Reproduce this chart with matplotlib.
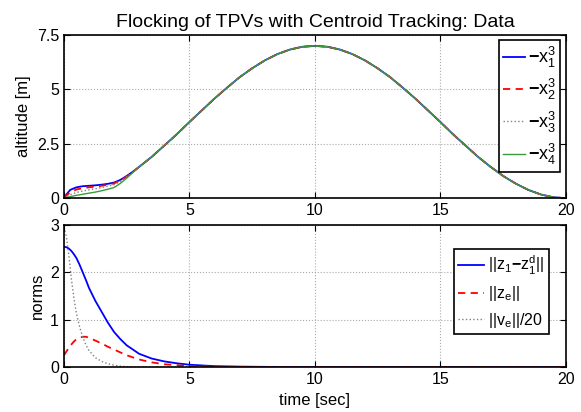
import matplotlib
matplotlib.use("Agg")
import matplotlib.pyplot as plt

plt.rcParams['font.family'] = ['Liberation Sans', 'DejaVu Sans']
plt.rcParams['mathtext.fontset'] = 'custom'
plt.rcParams['mathtext.rm'] = 'Liberation Sans'
plt.rcParams['mathtext.it'] = 'Liberation Sans'
plt.rcParams['mathtext.bf'] = 'Liberation Sans:bold'

# time samples (sec)
t = [0, 0.25, 0.5, 0.75, 1, 1.25, 1.5, 1.75, 2, 2.25, 2.5, 2.75, 3, 3.5, 4, 4.5, 5,
     5.5, 6, 6.5, 7, 7.5, 8, 8.5, 9, 9.5, 10, 10.5, 11, 11.5, 12, 12.5, 13, 13.5,
     14, 14.5, 15, 15.5, 16, 16.5, 17, 17.5, 18, 18.5, 19, 19.5, 20]

# altitude of the common part of the trajectory (after t = 3)
common = [1.44, 1.90, 2.42, 2.94, 3.50, 4.04, 4.58, 5.08, 5.56, 5.97, 6.33, 6.62,
          6.83, 6.96, 7.00, 6.96, 6.83, 6.62, 6.33, 5.97, 5.56, 5.08, 4.58, 4.04,
          3.50, 2.94, 2.42, 1.90, 1.44, 1.02, 0.67, 0.38, 0.17, 0.04, 0.0]
x1_start = [0.03, 0.38, 0.50, 0.55, 0.57, 0.59, 0.62, 0.66, 0.72, 0.84, 1.02, 1.22]
x2_start = [0.02, 0.27, 0.40, 0.46, 0.50, 0.53, 0.57, 0.62, 0.68, 0.81, 1.00, 1.21]
x3_start = [0.01, 0.16, 0.26, 0.33, 0.38, 0.43, 0.49, 0.55, 0.62, 0.77, 0.97, 1.20]
x4_start = [0.0, 0.07, 0.13, 0.18, 0.23, 0.28, 0.34, 0.41, 0.49, 0.68, 0.92, 1.18]
x1 = x1_start + common
x2 = x2_start + common
x3 = x3_start + common
x4 = x4_start + common

# norms
tn = [0, 0.1, 0.2, 0.3, 0.4, 0.5, 0.625, 0.75, 0.875, 1, 1.25, 1.5, 1.75, 2,
      2.25, 2.5, 3, 3.5, 4, 4.5, 5, 5.5, 6, 7, 8, 10, 12, 15, 20]
z1_err = [2.54, 2.53, 2.50, 2.45, 2.38, 2.30, 2.16, 2.00, 1.84, 1.67, 1.40, 1.17,
          0.94, 0.74, 0.59, 0.46, 0.28, 0.18, 0.12, 0.08, 0.05, 0.035, 0.02, 0.01,
          0.005, 0.0, 0.0, 0.0, 0.0]
ze = [0.25, 0.33, 0.41, 0.48, 0.54, 0.59, 0.62, 0.64, 0.64, 0.62, 0.56, 0.50,
      0.43, 0.37, 0.31, 0.25, 0.16, 0.10, 0.06, 0.04, 0.02, 0.012, 0.008, 0.004,
      0.002, 0.0, 0.0, 0.0, 0.0]
ve20 = [2.95, 2.75, 2.35, 1.85, 1.45, 1.13, 0.85, 0.63, 0.47, 0.35, 0.20, 0.12,
        0.07, 0.04, 0.02, 0.01, 0.004, 0.0, 0.0, 0.0, 0.0, 0.0, 0.0, 0.0, 0.0,
        0.0, 0.0, 0.0, 0.0]

fig = plt.figure(figsize=(5.81, 4.12), dpi=100)
ax1 = fig.add_axes([0.110, 0.519, 0.864, 0.396])
ax2 = fig.add_axes([0.110, 0.109, 0.864, 0.345])

ax1.plot(t, x1, color='blue', lw=1.3, label=r'$\mathbf{-}$x$_1^3$')
ax1.plot(t, x2, color='red', lw=1.3, ls=(0, (4, 3)), label=r'$\mathbf{-}$x$_2^3$')
ax1.plot(t, x3, color='gray', lw=1.0, ls=':', label=r'$\mathbf{-}$x$_3^3$')
ax1.plot(t, x4, color='#3a9a3a', lw=1.0, label=r'$\mathbf{-}$x$_4^3$')
ax1.set_xlim(0, 20)
ax1.set_ylim(0, 7.5)
ax1.set_xticks([0, 5, 10, 15, 20])
ax1.set_yticks([0, 2.5, 5, 7.5])
ax1.set_yticklabels(['0', '2.5', '5', '7.5'])
ax1.set_ylabel('altitude [m]', fontsize=12)
ax1.set_title('Flocking of TPVs with Centroid Tracking: Data', fontsize=14)
leg1 = ax1.legend(loc='upper right', fontsize=13, labelspacing=0.4, handlelength=1.2,
                  handletextpad=0.15, borderaxespad=0.3, fancybox=False, framealpha=1,
                  edgecolor='black', borderpad=0.25)
leg1.get_frame().set_linewidth(1.2)

ax2.plot(tn, z1_err, color='blue', lw=1.3, label=r'||z$_1$$\mathbf{-}$z$_1^d$||')
ax2.plot(tn, ze, color='red', lw=1.3, ls=(0, (4, 3)), label=r'||z$_e$||')
ax2.plot(tn, ve20, color='gray', lw=1.0, ls=':', label=r'||v$_e$||/20')
ax2.set_xlim(0, 20)
ax2.set_ylim(0, 3)
ax2.set_xticks([0, 5, 10, 15, 20])
ax2.set_yticks([0, 1, 2, 3])
ax2.set_xlabel('time [sec]', fontsize=12)
ax2.set_ylabel('norms', fontsize=12)
leg2 = ax2.legend(loc='upper right', bbox_to_anchor=(0.982, 0.885), fontsize=11.5,
                  labelspacing=0.45, handlelength=1.6, handletextpad=0.25,
                  fancybox=False, framealpha=1, edgecolor='black', borderpad=0.3)
leg2.get_frame().set_linewidth(1.2)

for ax in (ax1, ax2):
    ax.grid(True, ls=':', color='#aaaaaa', lw=0.8)
    ax.tick_params(direction='in', top=True, right=True, labelsize=11.5, length=4)
    for s in ax.spines.values():
        s.set_linewidth(1.2)

fig.savefig('out.png', dpi=100)
